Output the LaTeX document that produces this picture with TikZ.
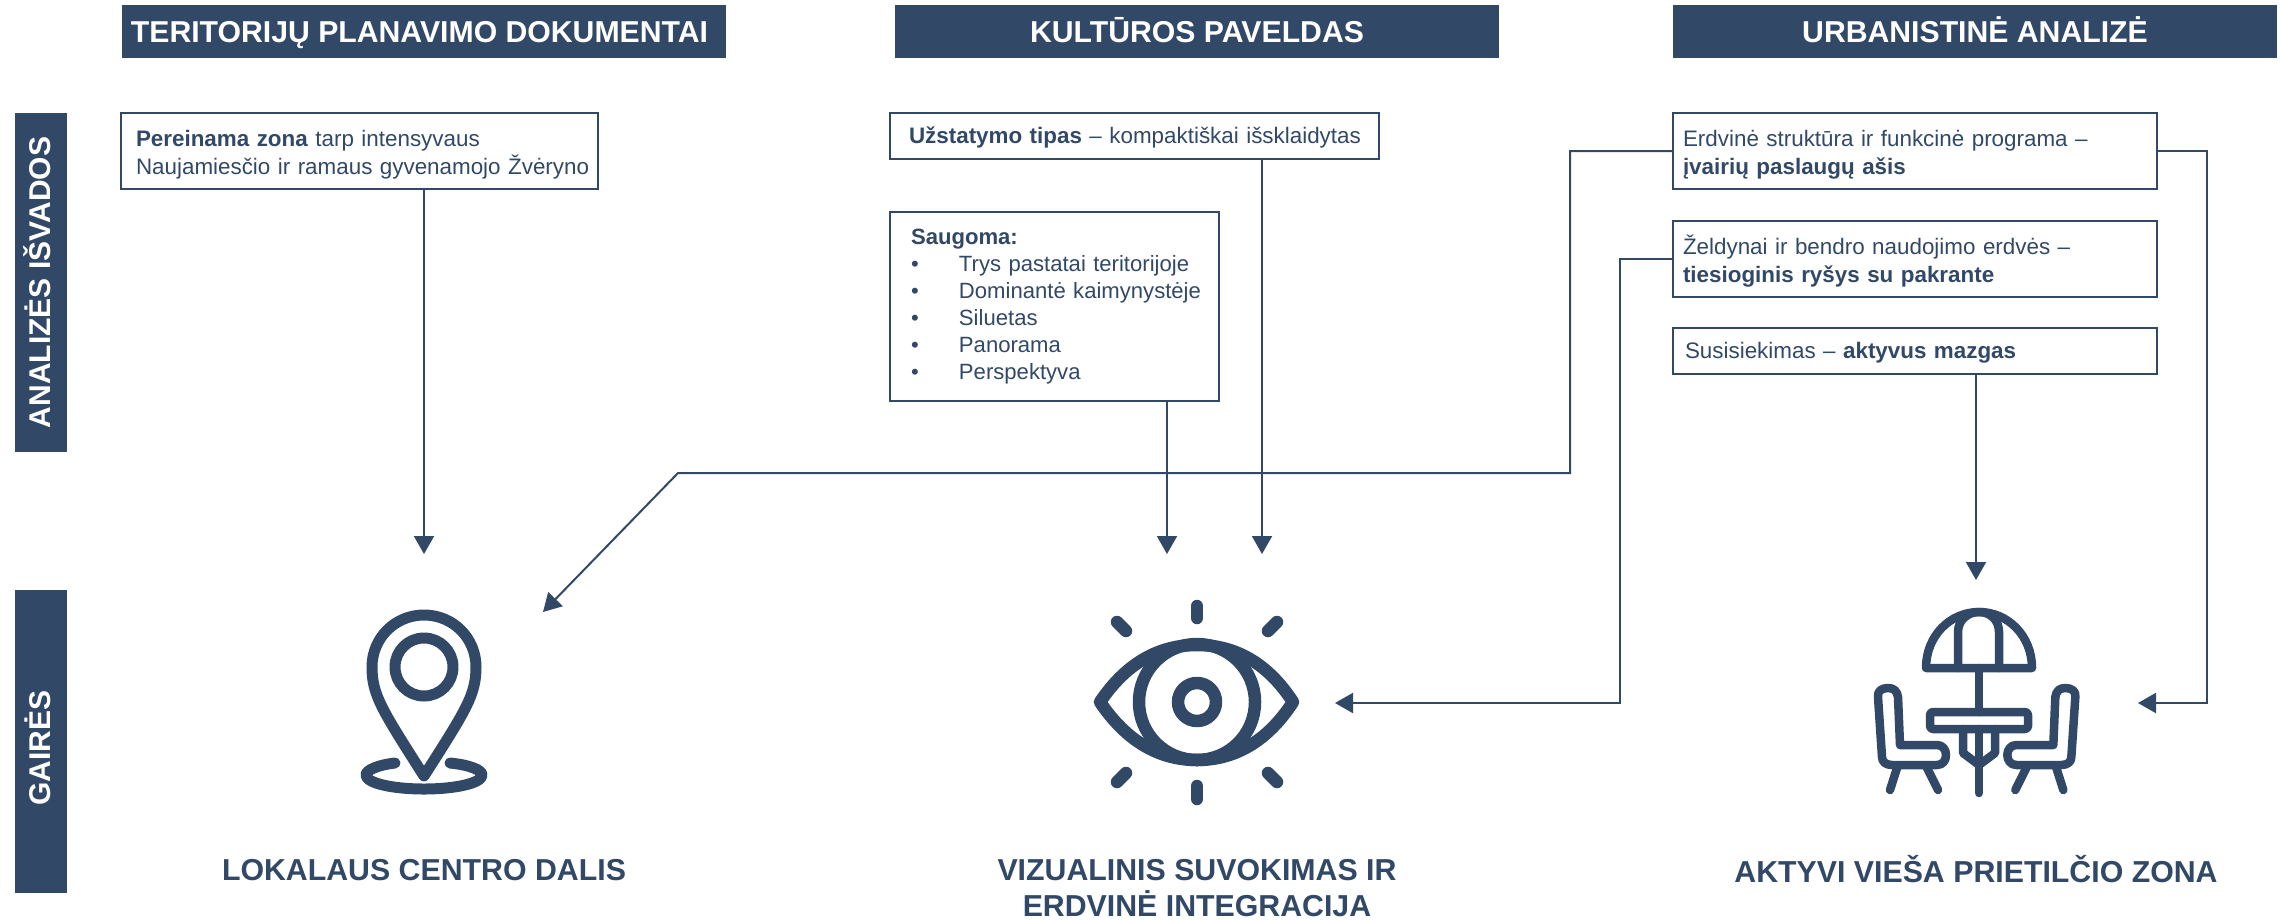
\documentclass[tikz,border=0pt]{standalone}
\usepackage{fontspec}
\setmainfont{Liberation Sans}
\usetikzlibrary{arrows.meta}
\definecolor{navy}{HTML}{314867}
\newcommand{\lift}[1]{\rule{0pt}{#1pt}}

\tikzset{
  headbar/.style={fill=navy, text=white, anchor=north west, minimum width=604pt, minimum height=53pt,
    text height=27pt, text depth=6pt, inner sep=0pt, outer sep=0pt, font=\fontsize{30.2}{34}\selectfont\bfseries},
  sidebar/.style={fill=navy, text=white, rotate=90, minimum height=52pt, text height=25pt, text depth=6pt,
    inner sep=0pt, outer sep=0pt, font=\fontsize{30}{34}\selectfont\bfseries},
  infobox/.style={draw=navy, line width=2pt, text=navy, anchor=north west, align=left, inner ysep=0pt,
    outer sep=0pt, font=\fontsize{22.4}{28}\selectfont},
  goaltext/.style={text=navy, align=center, inner sep=0pt, font=\fontsize{30.3}{36}\selectfont\bfseries},
  link/.style={draw=navy, line width=2pt, -{Triangle[width=20pt,length=18pt]}},
  icon/.style={draw=navy, line width=#1, line cap=round, line join=round}
}

\begin{document}
\begin{tikzpicture}[x=1pt, y=-1pt]
\useasboundingbox (0,0) rectangle (2281,919);

% Column headers
\node[headbar] (headplan) at (122,5) {TERITORIJŲ PLANAVIMO DOKUMENTAI\hspace*{9pt}};
\node[headbar] (headheritage) at (895,5) {KULTŪROS PAVELDAS};
\node[headbar] (headurban) at (1673,5) {URBANISTINĖ ANALIZĖ};

% Row labels
\node[sidebar, minimum width=339pt] (sideanalysis) at (41,282.5) {ANALIZĖS IŠVADOS};
\node[sidebar, minimum width=303pt] (sidegoals) at (41,741.5) {GAIRĖS\hspace*{13pt}};

% Findings
\node[infobox, inner xsep=15pt, text width=447pt, minimum height=76pt] (zone) at (121,113)
  {\lift{23}\textbf{Pereinama zona} tarp intensyvaus\\\mbox{Naujamiesčio ir ramaus gyvenamojo Žvėryno}};
\node[infobox, inner xsep=19pt, text width=451pt, minimum height=46pt] (density) at (890,113)
  {\lift{19}\mbox{\textbf{Užstatymo tipas} – kompaktiškai išsklaidytas}};
\node[infobox, inner xsep=21pt, text width=287pt, minimum height=189pt, font=\fontsize{22.1}{27}\selectfont] (protect) at (890,212)
  {\textbf{Saugoma:}\\
   \makebox[48pt][l]{•}Trys pastatai teritorijoje\\
   \makebox[48pt][l]{•}\mbox{Dominantė kaimynystėje}\\
   \makebox[48pt][l]{•}Siluetas\\
   \makebox[48pt][l]{•}Panorama\\
   \makebox[48pt][l]{•}Perspektyva};
\node[infobox, inner xsep=10pt, text width=464pt, minimum height=76pt] (axis) at (1673,113)
  {\lift{23}Erdvinė struktūra ir funkcinė programa –\\\textbf{įvairių paslaugų ašis}};
\node[infobox, inner xsep=10pt, text width=464pt, minimum height=76pt] (green) at (1673,221)
  {\lift{23}Želdynai ir bendro naudojimo erdvės –\\\textbf{tiesioginis ryšys su pakrante}};
\node[infobox, inner xsep=12pt, text width=460pt, minimum height=46pt] (transit) at (1673,328)
  {\lift{19}Susisiekimas – \textbf{aktyvus mazgas}};

% Goals
\node[goaltext] (goalpin) at (424,870) {LOKALAUS CENTRO DALIS};
\node[goaltext] (goaleye) at (1197,888) {VIZUALINIS SUVOKIMAS IR\\ERDVINĖ INTEGRACIJA};
\node[goaltext] (goalcafe) at (1976,869) {AKTYVI VIEŠA PRIETILČIO ZONA};

% Free ends of the connectors
\coordinate (tippin) at (424,554);
\coordinate (tipdiag) at (543,612);
\coordinate (tipprotect) at (1167,554);
\coordinate (tipdensity) at (1262,554);
\coordinate (tipeye) at (1335,703);
\coordinate (tiptransit) at (1976,580);
\coordinate (tipcafe) at (2138,703);
\coordinate (bendaxis) at (1570,473);
\coordinate (bendlow) at (678,473);
\coordinate (bendgreen) at (1620,703);
\coordinate (bendright) at (2207,703);

% Connectors
\draw[link] (zone.south -| tippin) -- (tippin);
\draw[link] (protect.south -| tipprotect) -- (tipprotect);
\draw[link] (density.south -| tipdensity) -- (tipdensity);
\draw[link] (transit.south -| tiptransit) -- (tiptransit);
\draw[link] (axis.west) -| (bendaxis) -- (bendlow) -- (tipdiag);
\draw[link] (green.west) -| (bendgreen) -- (tipeye);
\draw[link] (axis.east) -| (bendright) -- (tipcafe);

% Map pin
\draw[icon=11pt] (424,776) .. controls (382,710) and (372,695) .. (372,667)
  .. controls (372,638) and (395,615) .. (424,615)
  .. controls (453,615) and (476,638) .. (476,667)
  .. controls (476,695) and (466,710) .. (424,776);
\draw[icon=11pt] (424,667) circle[radius=29];
\draw[icon=11pt] (395,763) .. controls (378,765) and (366,770) .. (366,775)
  .. controls (366,783) and (392,789) .. (424,789)
  .. controls (456,789) and (482,783) .. (482,775)
  .. controls (482,770) and (470,765) .. (450,763);

% Eye
\draw[icon=12.5pt] (1100,702) .. controls (1127,662) and (1160,645) .. (1197,645)
  .. controls (1234,645) and (1267,662) .. (1293,702)
  .. controls (1267,742) and (1234,760) .. (1197,760)
  .. controls (1160,760) and (1127,742) .. (1100,702) -- cycle;
\draw[icon=12.5pt] (1197,702) circle[radius=58];
\draw[icon=12.5pt] (1197,702) circle[radius=19];
\foreach \xa/\ya/\xb/\yb in {1197/606/1197/618, 1197/786/1197/799, 1117/622/1126/631, 1277/622/1268/631,
    1126/773/1117/782, 1268/773/1277/782}
  \draw[icon=12.5pt] (\xa,\ya) -- (\xb,\yb);

% Cafe table
\draw[icon=8.5pt] (1926,668) .. controls (1926,636) and (1950,612) .. (1979,612)
  .. controls (2008,612) and (2032,636) .. (2032,668) -- cycle;
\draw[icon=8.5pt] (1958,668) -- (1958,632) .. controls (1958,620) and (1968,612) .. (1979,612)
  .. controls (1990,612) and (1999,620) .. (1999,632) -- (1999,668);
\draw[icon=8.5pt] (1979,668) -- (1979,712);
\draw[icon=8.5pt, rounded corners=3pt] (1930,712) rectangle (2028,729);
\draw[icon=8.5pt] (1979,729) -- (1979,793);
\draw[icon=8.5pt] (1963,729) -- (1963,753) -- (1979,765) -- (1995,753) -- (1995,729);
\foreach \side in {0,1} {
  \begin{scope}[xshift=\side*3953.33pt, xscale=1-2*\side]
    \draw[icon=8.5pt] (1878,697) .. controls (1877,691) and (1882,688) .. (1888,688)
      .. controls (1894,688) and (1897,691) .. (1898,697) -- (1900,745) -- (1937,745)
      .. controls (1943,745) and (1946,750) .. (1946,755)
      .. controls (1946,760) and (1943,765) .. (1937,765) -- (1892,765)
      .. controls (1886,765) and (1882,762) .. (1882,757) -- cycle;
    \draw[icon=8.5pt] (1897,768) -- (1890,790);
    \draw[icon=8.5pt] (1927,768) -- (1938,790);
  \end{scope}
}
\end{tikzpicture}
\end{document}
